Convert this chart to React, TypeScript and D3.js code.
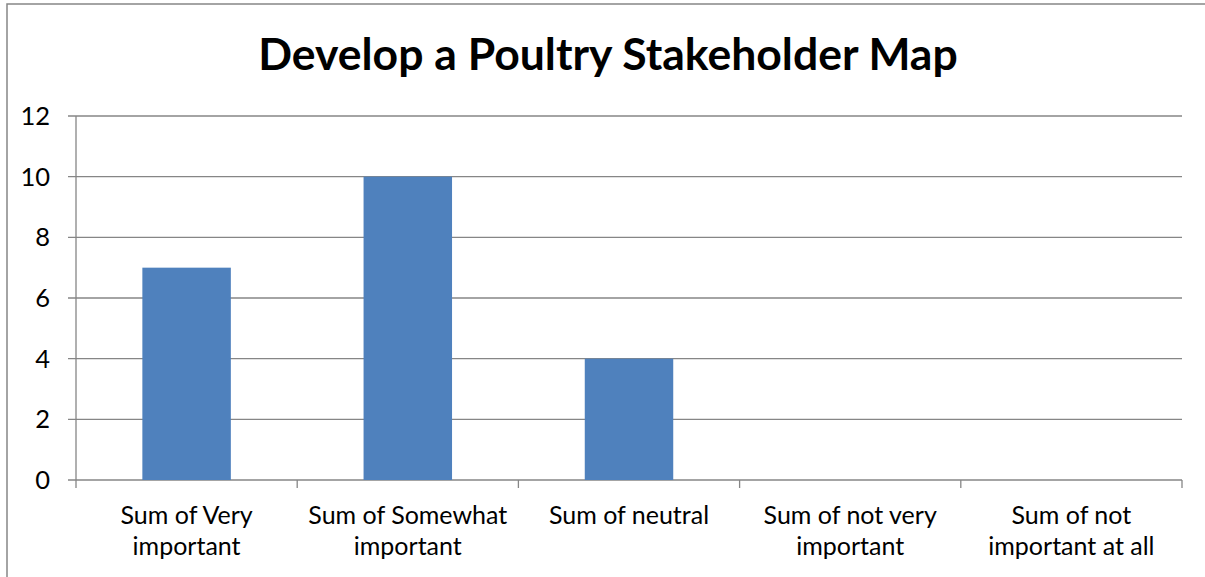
import React from "react";
import * as d3 from "d3";

const title = "Develop a Poultry Stakeholder Map";
const categories = [
  ["Sum of Very", "important"],
  ["Sum of Somewhat", "important"],
  ["Sum of neutral"],
  ["Sum of not very", "important"],
  ["Sum of not", "important at all"],
];
const values = [7, 10, 4, 0, 0];
const yTicks = [0, 2, 4, 6, 8, 10, 12];

const W = 1205;
const H = 577;
const left = 76;
const right = 1182;
const top = 116;
const bottom = 480;
const font = "Lato, 'Open Sans', sans-serif";
const grid = "#868686";

export default function App() {
  const keys = categories.map((_, i) => String(i));
  const x = d3.scaleBand<string>().domain(keys).range([left, right]).padding(0);
  const y = d3.scaleLinear().domain([0, 12]).range([bottom, top]);
  const bw = x.bandwidth() * 0.4;
  return (
    <svg width={W} height={H} style={{ position: "absolute", left: 0, top: 0, background: "#fff" }}>
      <rect x={7} y={4} width={1300} height={700} fill="#fff" stroke={grid} strokeWidth={1.5} />
      <text x={608} y={70} textAnchor="middle" fontFamily={font} fontWeight={700} fontSize={44.5} fill="#000">
        {title}
      </text>
      {yTicks.map((t) => (
        <g key={t}>
          <line x1={left - 8} x2={right} y1={y(t)} y2={y(t)} stroke={grid} strokeWidth={1.3} />
          <text x={50} y={y(t) + 9} textAnchor="end" fontFamily={font} fontSize={25.5} fill="#000">
            {t}
          </text>
        </g>
      ))}
      <line x1={left} x2={left} y1={top} y2={bottom + 8} stroke={grid} strokeWidth={1.3} />
      {keys.map((k) => (
        <line key={"t" + k} x1={x(k)! + x.bandwidth()} x2={x(k)! + x.bandwidth()} y1={bottom} y2={bottom + 8} stroke={grid} strokeWidth={1.3} />
      ))}
      {values.map((v, i) => (
        <rect
          key={"b" + i}
          x={x(keys[i])! + x.bandwidth() / 2 - bw / 2}
          y={y(v)}
          width={bw}
          height={y(0) - y(v)}
          fill="#4F81BD"
        />
      ))}
      {categories.map((lines, i) => (
        <text key={"c" + i} textAnchor="middle" fontFamily={font} fontSize={25} fill="#000">
          {lines.map((ln, j) => (
            <tspan key={j} x={x(keys[i])! + x.bandwidth() / 2} y={524 + j * 31}>
              {ln}
            </tspan>
          ))}
        </text>
      ))}
    </svg>
  );
}
